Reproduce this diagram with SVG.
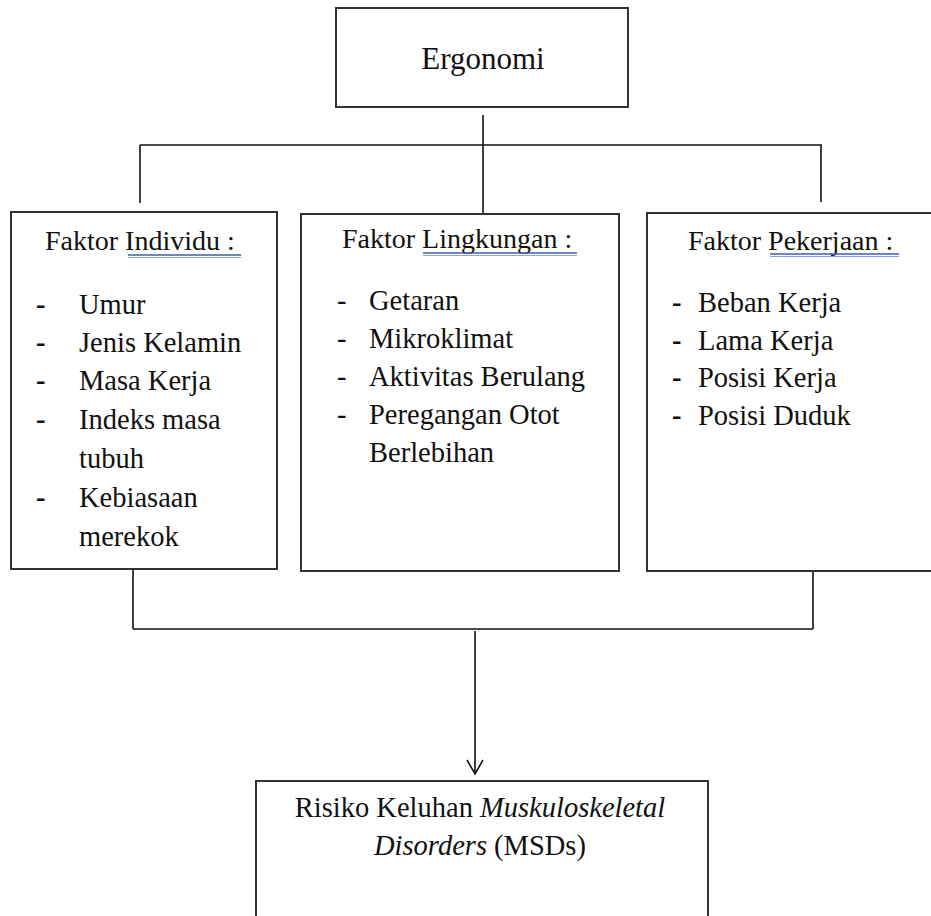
<svg xmlns="http://www.w3.org/2000/svg" width="931" height="916" viewBox="0 0 931 916">
<defs>
<style>
.box{fill:#fff;stroke:#333;stroke-width:2}
.ln{fill:none;stroke:#111;stroke-width:1.6}
.t{font-family:'Liberation Serif','DejaVu Serif','Noto Serif',serif;font-size:28.5px;fill:#111}
.h{font-family:'Liberation Serif','DejaVu Serif','Noto Serif',serif;font-size:28px;fill:#111}
.ul{stroke:#3b5fae;stroke-width:1.4}
.ul2{stroke:#8fa3d0;stroke-width:1}
</style>
<marker id="arr" markerWidth="20" markerHeight="20" refX="15" refY="10" orient="auto" markerUnits="userSpaceOnUse" viewBox="0 0 20 20">
<path d="M1,2 L15,10 L1,18" fill="none" stroke="#111" stroke-width="1.6"/>
</marker>
</defs>
<rect width="931" height="916" fill="#fff"/>

<g id="connectors">
<line class="ln" x1="483" y1="115" x2="483" y2="213"/>
<line class="ln" x1="140" y1="145" x2="822" y2="145"/>
<line class="ln" x1="140" y1="145" x2="140" y2="203"/>
<line class="ln" x1="821" y1="145" x2="821" y2="202"/>
<line class="ln" x1="133" y1="565" x2="133" y2="629"/>
<line class="ln" x1="813" y1="565" x2="813" y2="629"/>
<line class="ln" x1="133" y1="629" x2="813" y2="629"/>
<line class="ln" x1="475" y1="631" x2="475" y2="774" marker-end="url(#arr)"/>
</g>

<g id="ergonomi">
<rect class="box" x="336" y="8" width="292" height="99"/>
<text class="t" x="483" y="69" text-anchor="middle" font-family="Liberation Serif, serif" style="font-size:31px">Ergonomi</text>
</g>

<g id="faktor-individu">
<rect class="box" x="11" y="212" width="266" height="357"/>
<text class="h" x="45" y="250">Faktor Individu :</text>
<line class="ul" x1="128" y1="255" x2="241" y2="255"/>
<line class="ul2" x1="128" y1="257.5" x2="241" y2="257.5"/>
<g class="t">
<text x="36" y="314" style="font-weight:bold">-</text><text x="79" y="314">Umur</text>
<text x="36" y="352" style="font-weight:bold">-</text><text x="79" y="352">Jenis Kelamin</text>
<text x="36" y="390" style="font-weight:bold">-</text><text x="79" y="390">Masa Kerja</text>
<text x="36" y="429" style="font-weight:bold">-</text><text x="79" y="429">Indeks masa</text>
<text x="79" y="468">tubuh</text>
<text x="36" y="507" style="font-weight:bold">-</text><text x="79" y="507">Kebiasaan</text>
<text x="79" y="546">merekok</text>
</g>
</g>

<g id="faktor-lingkungan">
<rect class="box" x="301" y="214" width="318" height="357"/>
<text class="h" x="342" y="248">Faktor Lingkungan :</text>
<line class="ul" x1="423" y1="253" x2="577" y2="253"/>
<line class="ul2" x1="423" y1="255.5" x2="577" y2="255.5"/>
<g class="t">
<text x="337" y="310">-</text><text x="369" y="310">Getaran</text>
<text x="337" y="348">-</text><text x="369" y="348">Mikroklimat</text>
<text x="337" y="386">-</text><text x="369" y="386">Aktivitas Berulang</text>
<text x="337" y="424">-</text><text x="369" y="424">Peregangan Otot</text>
<text x="369" y="462">Berlebihan</text>
</g>
</g>

<g id="faktor-pekerjaan">
<rect class="box" x="647" y="213" width="300" height="358"/>
<text class="h" x="688" y="250">Faktor Pekerjaan :</text>
<line class="ul" x1="770" y1="254" x2="899" y2="254"/>
<line class="ul2" x1="770" y1="256.5" x2="899" y2="256.5"/>
<g class="t">
<text x="672" y="312" style="font-weight:bold">-</text><text x="698" y="312">Beban Kerja</text>
<text x="672" y="350" style="font-weight:bold">-</text><text x="698" y="350">Lama Kerja</text>
<text x="672" y="387" style="font-weight:bold">-</text><text x="698" y="387">Posisi Kerja</text>
<text x="672" y="425" style="font-weight:bold">-</text><text x="698" y="425">Posisi Duduk</text>
</g>
</g>

<g id="risiko-msds">
<rect class="box" x="256" y="781" width="452" height="150"/>
<text class="t" x="480" y="817" text-anchor="middle">Risiko Keluhan <tspan font-style="italic">Muskuloskeletal</tspan></text>
<text class="t" x="480" y="855" text-anchor="middle"><tspan font-style="italic">Disorders</tspan> (MSDs)</text>
</g>
</svg>
